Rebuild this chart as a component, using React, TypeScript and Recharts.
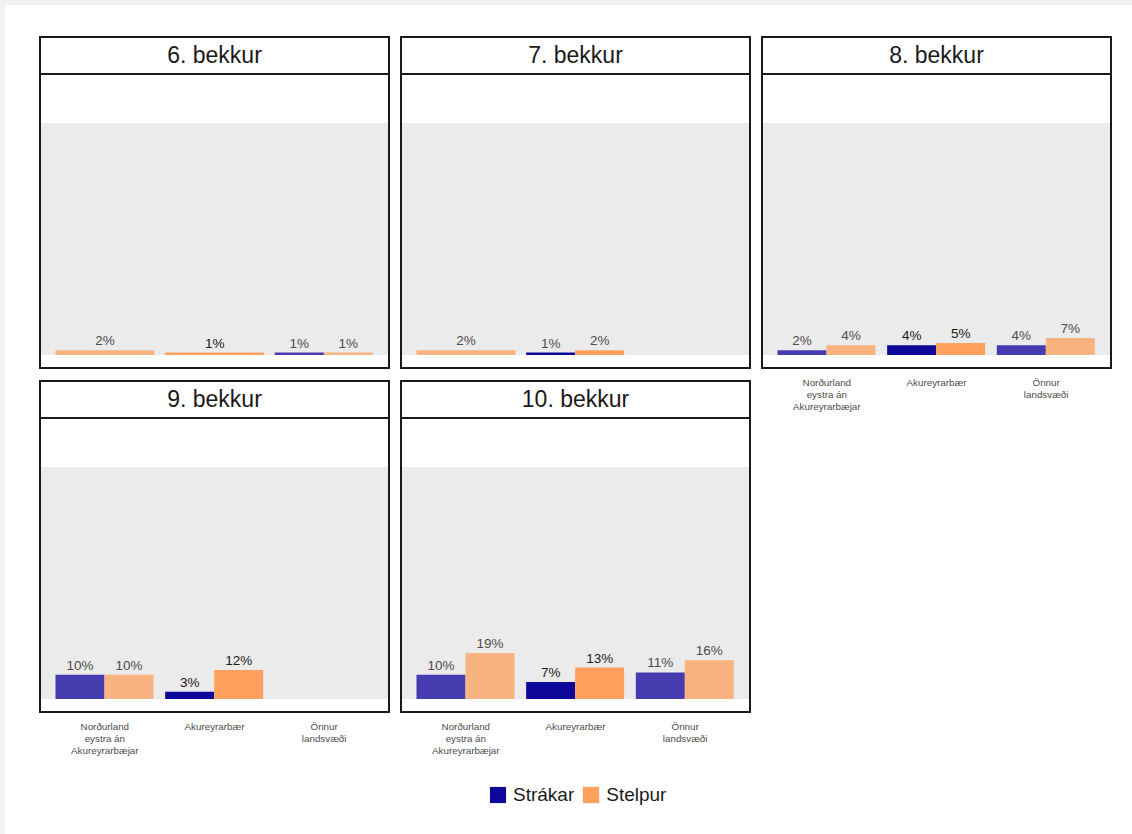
import { BarChart, Bar, XAxis, YAxis, CartesianGrid, Cell, LabelList } from 'recharts';

// flokkar (x-ás), \n = línuskil í merkingum
const categories = ['Norðurland\neystra án\nAkureyrarbæjar', 'Akureyrarbær', 'Önnur\nlandsvæði'];
const highlighted = 'Akureyrarbær';
const grades = ['6. bekkur', '7. bekkur', '8. bekkur', '9. bekkur', '10. bekkur'];

// hlutfall (%) eftir bekk, sama röð og categories; null = engin gögn
const strakar = [
  [null, null, 1],
  [null, 1, null],
  [2, 4, 4],
  [10, 3, null],
  [10, 7, 11],
];
const stelpur = [
  [2, 1, 1],
  [2, 2, null],
  [4, 5, 7],
  [10, 12, null],
  [19, 13, 16],
];

const series = [
  { key: 'strakar', name: 'Strákar', full: '#0d0899', light: '#463cb0' },
  { key: 'stelpur', name: 'Stelpur', full: '#fea05e', light: '#f9b381' },
];

const colorFor = (key: string, cat: string) => {
  const s = series.find((d) => d.key === key)!;
  return cat === highlighted ? s.full : s.light;
};

interface Row {
  cat: string;
  strakar: number | null;
  stelpur: number | null;
  solo: number | null;
  soloKey: string;
}

function buildRows(g: number): Row[] {
  return categories.map((cat, i) => {
    const b = strakar[g][i];
    const s = stelpur[g][i];
    const pair = b != null && s != null;
    return {
      cat,
      strakar: pair ? b : null,
      stelpur: pair ? s : null,
      solo: pair ? null : b ?? s,
      soloKey: b != null ? 'strakar' : 'stelpur',
    };
  });
}

const makeLabel = (rows: Row[]) => (props: any) => {
  const { x, y, width, value, index } = props;
  if (value == null) return null;
  const hi = rows[index]?.cat === highlighted;
  return (
    <text
      x={Number(x) + Number(width) / 2}
      y={Number(y) - 5}
      textAnchor="middle"
      fontSize={13.5}
      fill={hi ? '#1a1a1a' : '#4d4d4d'}
    >
      {value}%
    </text>
  );
};

const CategoryTick = (props: any) => {
  const { x, y, payload } = props;
  const lines = String(payload.value).split('\n');
  return (
    <text x={x} y={y} textAnchor="middle" fontSize={9.8} fill="#4d4d4d">
      {lines.map((l, i) => (
        <tspan key={i} x={x} y={y + 31 + i * 12}>
          {l}
        </tspan>
      ))}
    </text>
  );
};

function Panel({ g, showAxis }: { g: number; showAxis: boolean }) {
  const rows = buildRows(g);
  const col = g % 3;
  const row = Math.floor(g / 3);
  return (
    <div
      style={{
        position: 'absolute',
        left: 39 + col * 361,
        top: 36 + row * 344,
        width: 351,
        height: 333,
        boxSizing: 'border-box',
        border: '2px solid #1a1a1a',
      }}
    >
      <div
        style={{
          height: 35,
          borderBottom: '2px solid #1a1a1a',
          display: 'flex',
          alignItems: 'center',
          justifyContent: 'center',
          fontSize: 23,
          color: '#1a1a1a',
        }}
      >
        {grades[g]}
      </div>
      <BarChart
        width={347}
        height={showAxis ? 341 : 291}
        data={rows}
        margin={{ top: 48, right: 0, bottom: 0, left: 0 }}
        barCategoryGap="5%"
        barGap={0}
        style={{ overflow: 'visible' }}
      >
        <CartesianGrid fill="#ebebeb" stroke="none" horizontal={false} vertical={false} />
        <XAxis
          dataKey="cat"
          padding={{ left: 9, right: 9 }}
          height={showAxis ? 61 : 11}
          axisLine={false}
          tickLine={false}
          tickSize={0}
          tickMargin={0}
          interval={0}
          tick={showAxis ? <CategoryTick /> : false}
        />
        <XAxis xAxisId="solo" dataKey="cat" padding={{ left: 9, right: 9 }} hide />
        <YAxis domain={[0, 96]} hide />
        {series.map((s) => (
          <Bar key={s.key} dataKey={s.key} name={s.name} isAnimationActive={false}>
            {rows.map((r) => (
              <Cell key={r.cat} fill={colorFor(s.key, r.cat)} />
            ))}
            <LabelList dataKey={s.key} content={makeLabel(rows)} />
          </Bar>
        ))}
        <Bar dataKey="solo" xAxisId="solo" isAnimationActive={false}>
          {rows.map((r) => (
            <Cell key={r.cat} fill={colorFor(r.soloKey, r.cat)} />
          ))}
          <LabelList dataKey="solo" content={makeLabel(rows)} />
        </Bar>
      </BarChart>
    </div>
  );
}

export default function App() {
  return (
    <div
      style={{
        position: 'relative',
        width: 1132,
        height: 834,
        background: '#f2f2f2',
        fontFamily: '"Liberation Sans", Arial, sans-serif',
        overflow: 'hidden',
      }}
    >
      <style>{'body{margin:0}'}</style>
      <div style={{ position: 'absolute', left: 5, top: 5, right: 0, bottom: 0, background: '#ffffff' }} />
      {grades.map((_, g) => (
        <Panel key={g} g={g} showAxis={g >= 2} />
      ))}
      <div
        style={{
          position: 'absolute',
          left: 489,
          top: 784,
          display: 'flex',
          alignItems: 'center',
          fontSize: 19,
          color: '#1a1a1a',
        }}
      >
        {series.map((s) => (
          <div key={s.key} style={{ display: 'flex', alignItems: 'center', marginRight: 8 }}>
            <div
              style={{
                width: 16,
                height: 16,
                background: s.full,
                border: '1px solid #f0f0f0',
                marginRight: 6,
              }}
            />
            <span>{s.name}</span>
          </div>
        ))}
      </div>
    </div>
  );
}
